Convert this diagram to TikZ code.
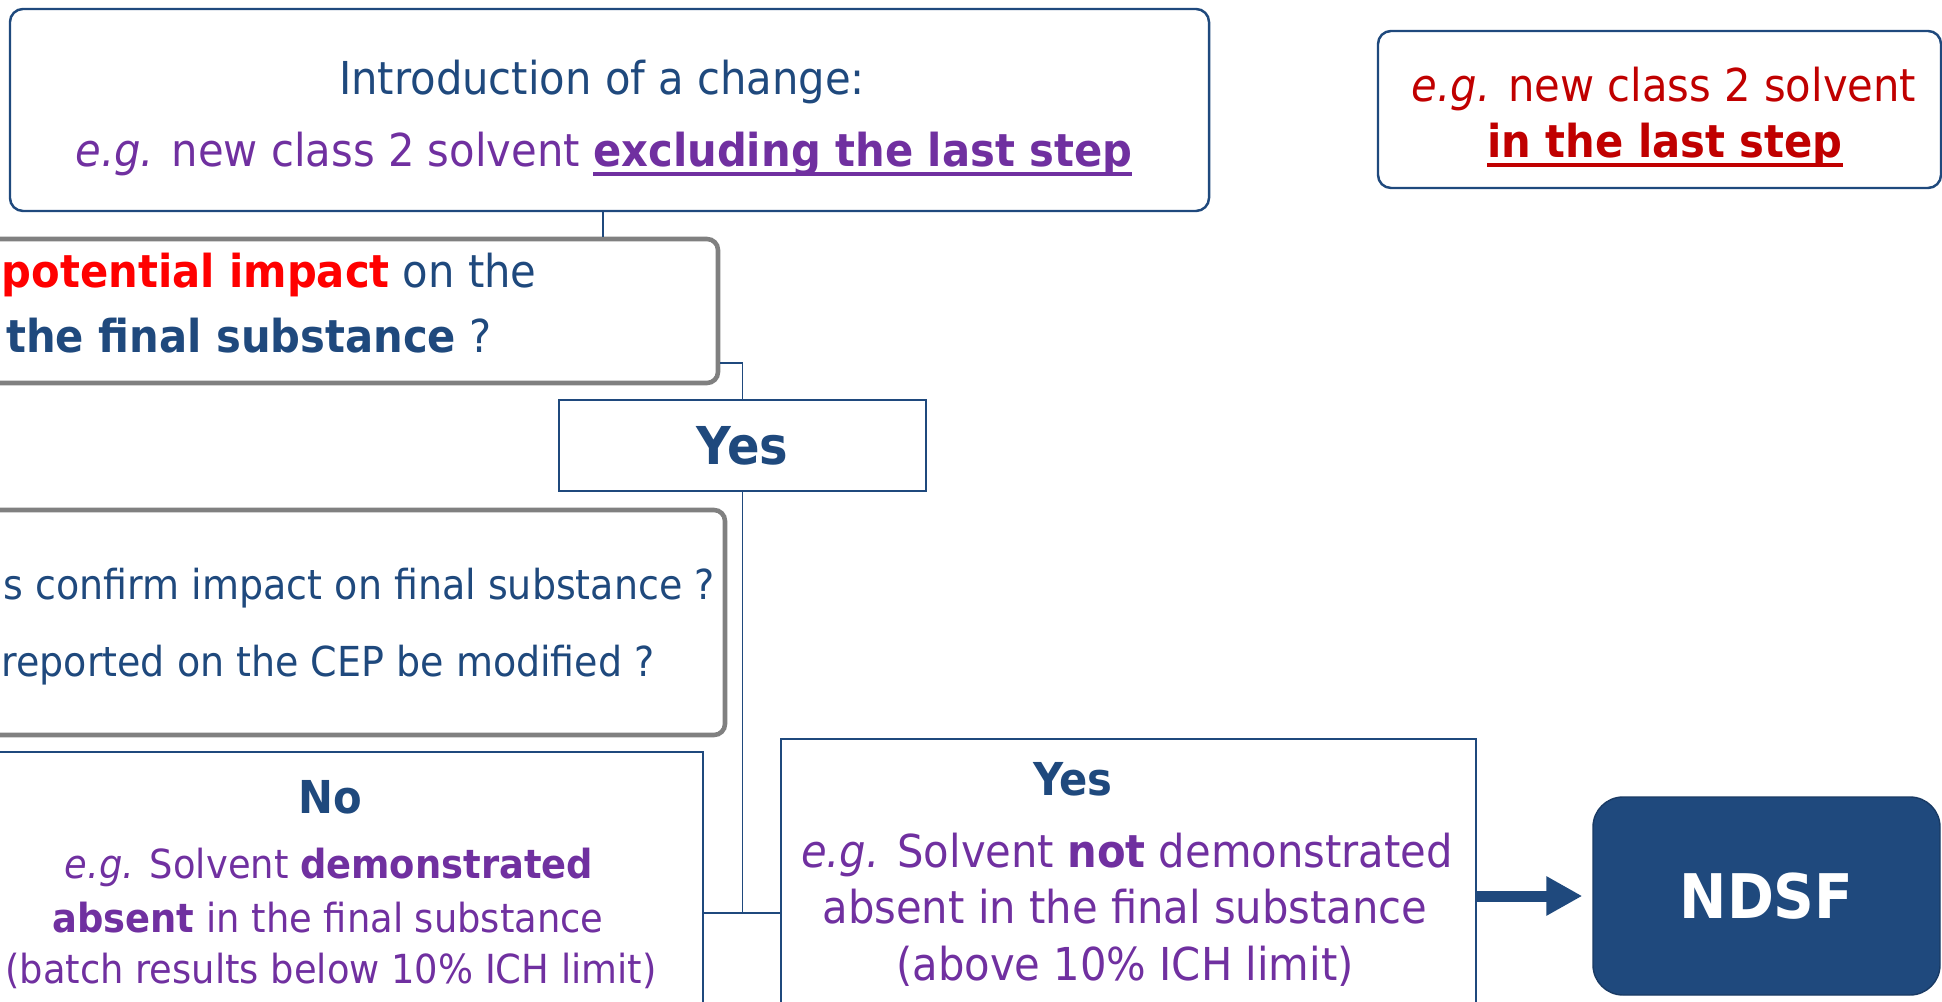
\documentclass[tikz,border=0pt]{standalone}
\usepackage{fontspec}
\setmainfont{DejaVu Sans}[FakeStretch=0.92]
\usetikzlibrary{arrows.meta}
\definecolor{cepblue}{HTML}{1F497D}
\definecolor{ceppurple}{HTML}{7030A0}
\definecolor{cepred}{HTML}{C00000}
\definecolor{cepgray}{HTML}{808080}
\newcommand{\ulined}[1]{\setbox0\hbox{#1}\rlap{\rule[-5.1pt]{\wd0}{2.3pt}}\box0}
\tikzset{%
  rbox/.style={draw=cepblue,line width=1.4pt,rounded corners=2.6mm,inner sep=0pt},
  qbox/.style={draw=cepgray,line width=2.6pt,rounded corners=2.2mm,inner sep=0pt},
  sbox/.style={draw=cepblue,line width=1.1pt,inner sep=0pt},
  txt/.style={inner sep=0pt,anchor=base,font=\fontsize{25.8}{31}\selectfont},
  small/.style={txt,font=\fontsize{22.8}{27}\selectfont},
  head/.style={txt,text=cepblue,font=\bfseries\fontsize{25.8}{31}\selectfont},
  link/.style={draw=cepblue,line width=1.1pt}
}

\begin{document}
\begin{tikzpicture}[x=0.2mm,y=-0.2mm]
  \useasboundingbox (0,0) rectangle (1942,1002);

  \node[rbox,minimum width=239.8mm,minimum height=40.4mm] (intro) at (609.5,110) {};
  \node[txt,text=cepblue] (intro1) at (602,95) {Introduction of a change:};
  \node[txt,text=ceppurple] (intro2) at (604,167)
    {\textit{e.g.} new class 2 solvent \ulined{\textbf{excluding the last step}}};

  \node[rbox,minimum width=112.6mm,minimum height=31.4mm] (last) at (1659.5,109.5) {};
  \node[txt,text=cepred] (last1) at (1664,102) {\textit{e.g.} new class 2 solvent};
  \node[txt,text=cepred] (last2) at (1665,158) {\ulined{\textbf{in the last step}}};

  \node[qbox,minimum width=151.6mm,minimum height=28.8mm] (impact) at (339,311) {};
  \node[txt,anchor=base east,text=cepblue] (impact1) at (537,288)
    {\textbf{\color{red}potential impact} on the};
  \node[txt,anchor=base east,text=cepblue] (impact2) at (492,353)
    {\textbf{the final substance} ?};

  \node[sbox,minimum width=73.4mm,minimum height=18.2mm,text=cepblue,
    font=\bfseries\fontsize{29.7}{36}\selectfont] (yes) at (742.5,445.5) {Yes};

  \node[qbox,minimum width=153mm,minimum height=45mm] (confirm) at (342.5,622.5) {};
  \node[txt,anchor=base east,text=cepblue,font=\fontsize{23.5}{28}\selectfont] (confirm1)
    at (715,600) {s confirm impact on final substance ?};
  \node[txt,anchor=base east,text=cepblue,font=\fontsize{23.5}{28}\selectfont] (confirm2)
    at (655,676) {reported on the CEP be modified ?};

  \node[sbox,minimum width=148.6mm,minimum height=61.6mm] (no) at (331.5,906) {};
  \node[head] (no0) at (330,813) {No};
  \node[small,text=ceppurple] (no1) at (329,878) {\textit{e.g.} Solvent \textbf{demonstrated}};
  \node[small,text=ceppurple] (no2) at (328,932) {\textbf{absent} in the final substance};
  \node[small,text=ceppurple] (no3) at (331,983) {(batch results below 10\% ICH limit)};

  \node[sbox,minimum width=139mm,minimum height=64.2mm] (yesb) at (1128.5,899.5) {};
  \node[head] (yesb0) at (1073,795) {Yes};
  \node[txt,text=ceppurple] (yesb1) at (1127,867) {\textit{e.g.} Solvent \textbf{not} demonstrated};
  \node[txt,text=ceppurple] (yesb2) at (1125,923) {absent in the final substance};
  \node[txt,text=ceppurple] (yesb3) at (1125,980) {(above 10\% ICH limit)};

  \node[draw=cepblue!80!black,fill=cepblue,rounded corners=6mm,line width=0.8pt,
    minimum width=69.4mm,minimum height=39.6mm,text=white,
    font=\bfseries\fontsize{35}{42}\selectfont] (ndsf) at (1766.5,896) {NDSF};

  \draw[link] ([xshift=-1.3mm]intro.south) -- ([xshift=-1.3mm]intro.south |- impact.north);
  \draw[link] ([yshift=-10.4mm]impact.east) -| (yes.north);
  \coordinate (fork) at (742.5,913);
  \draw[link] (yes.south) -- (fork);
  \draw[link] (fork -| no.east) -- (fork -| yesb.west);
  \draw[cepblue,line width=2.2mm,-{Triangle[length=7.2mm,width=7.4mm]},shorten >=2mm]
    (ndsf.west -| yesb.east) -- (ndsf.west);
\end{tikzpicture}
\end{document}
